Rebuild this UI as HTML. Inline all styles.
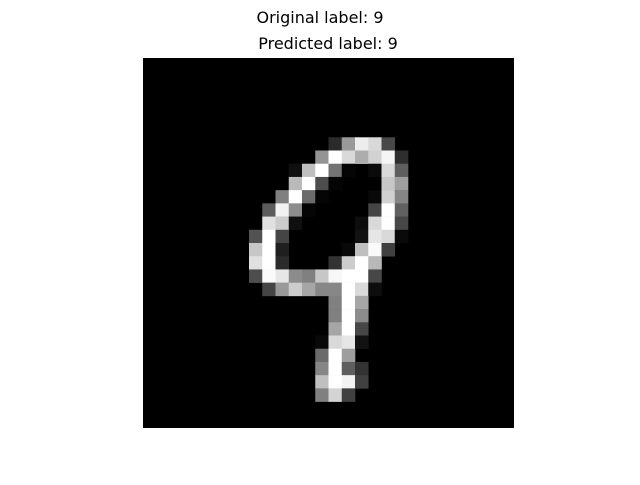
<!DOCTYPE html>
<html><head><meta charset="utf-8"><style>
body{margin:0;background:#fff;width:640px;height:480px;overflow:hidden}
text{font-family:"DejaVu Sans","Liberation Sans",sans-serif;font-size:16px;fill:#000}
</style></head><body>
<svg id="chart" width="640" height="480" xmlns="http://www.w3.org/2000/svg">
<text x="320" y="23" text-anchor="middle">Original label: 9</text>
<text x="328" y="49" text-anchor="middle">Predicted label: 9</text>
<rect x="143" y="58" width="371" height="370" fill="#000"/>
<g id="cells"></g>
</svg>
<script>
// nonzero pixels: [row, col, intensity 0..1]
const pixelRows = [6,6,6,6,6, 7,7,7,7,7,7,7, 8,8,8,8,8,8,8,8, 9,9,9,9,9,9, 10,10,10,10,10,10,10, 11,11,11,11,11,11,11, 12,12,12,12,12,12,12, 13,13,13,13,13,13,13, 14,14,14,14,14,14,14, 15,15,15,15,15,15,15, 16,16,16,16,16,16,16,16,16,16, 17,17,17,17,17,17,17,17,17, 18,18,18, 19,19,19, 20,20,20, 21,21,21,21, 22,22,22, 23,23,23,23, 24,24,24,24, 25,25,25];
const pixelCols = [14,15,16,17,18, 13,14,15,16,17,18,19, 11,12,13,14,15,17,18,19, 11,12,13,14,18,19, 10,11,12,13,17,18,19, 9,10,11,12,17,18,19, 9,10,11,16,17,18,19, 8,9,10,16,17,18,19, 8,9,10,15,16,17,18, 8,9,10,14,15,16,17, 8,9,10,11,12,13,14,15,16,17, 9,10,11,12,13,14,15,16,17, 14,15,16, 14,15,16, 14,15,16, 13,14,15,16, 13,14,15, 13,14,15,16, 13,14,15,16, 13,14,15];
const pixelValues = [0.17,0.6,0.93,0.85,0.28, 0.58,1,0.85,0.68,0.82,0.96,0.18, 0.06,0.75,1,0.45,0.02,0.04,0.85,0.37, 0.73,1,0.3,0.02,0.78,0.62, 0.5,1,0.42,0.02,0.03,0.82,0.52, 0.36,0.95,0.55,0.02,0.27,1,0.38, 0.88,0.8,0.06,0.05,0.85,1,0.28, 0.32,1,0.27,0.07,0.9,0.85,0.04, 0.78,1,0.12,0.03,0.75,0.98,0.25, 0.88,1,0.17,0.2,0.8,1,0.72, 0.3,0.98,0.9,0.55,0.5,0.78,0.97,1,1,0.28, 0.27,0.6,0.8,0.65,0.53,0.53,1,0.85,0.05, 0.5,1,0.65, 0.5,1,0.55, 0.65,1,0.28, 0.03,0.85,0.9,0.07, 0.42,1,0.62, 0.52,1,0.37,0.2, 0.75,1,0.95,0.25, 0.5,0.83,0.25];
const gridSize = 28;
const x0=143,y0=58,W=371,H=370;
const xs=c=>x0+c*W/gridSize, ys=r=>y0+r*H/gridSize;
const g=document.getElementById('cells');
for(let i=0;i<pixelValues.length;i++){
  const r=document.createElementNS('http://www.w3.org/2000/svg','rect');
  const c=pixelCols[i], rw=pixelRows[i], v=Math.round(pixelValues[i]*255);
  r.setAttribute('x',xs(c));r.setAttribute('y',ys(rw));
  r.setAttribute('width',xs(c+1)-xs(c)+0.3);r.setAttribute('height',ys(rw+1)-ys(rw)+0.3);
  r.setAttribute('fill',`rgb(${v},${v},${v})`);
  
  
  g.appendChild(r);
}
</script>
</body></html>
